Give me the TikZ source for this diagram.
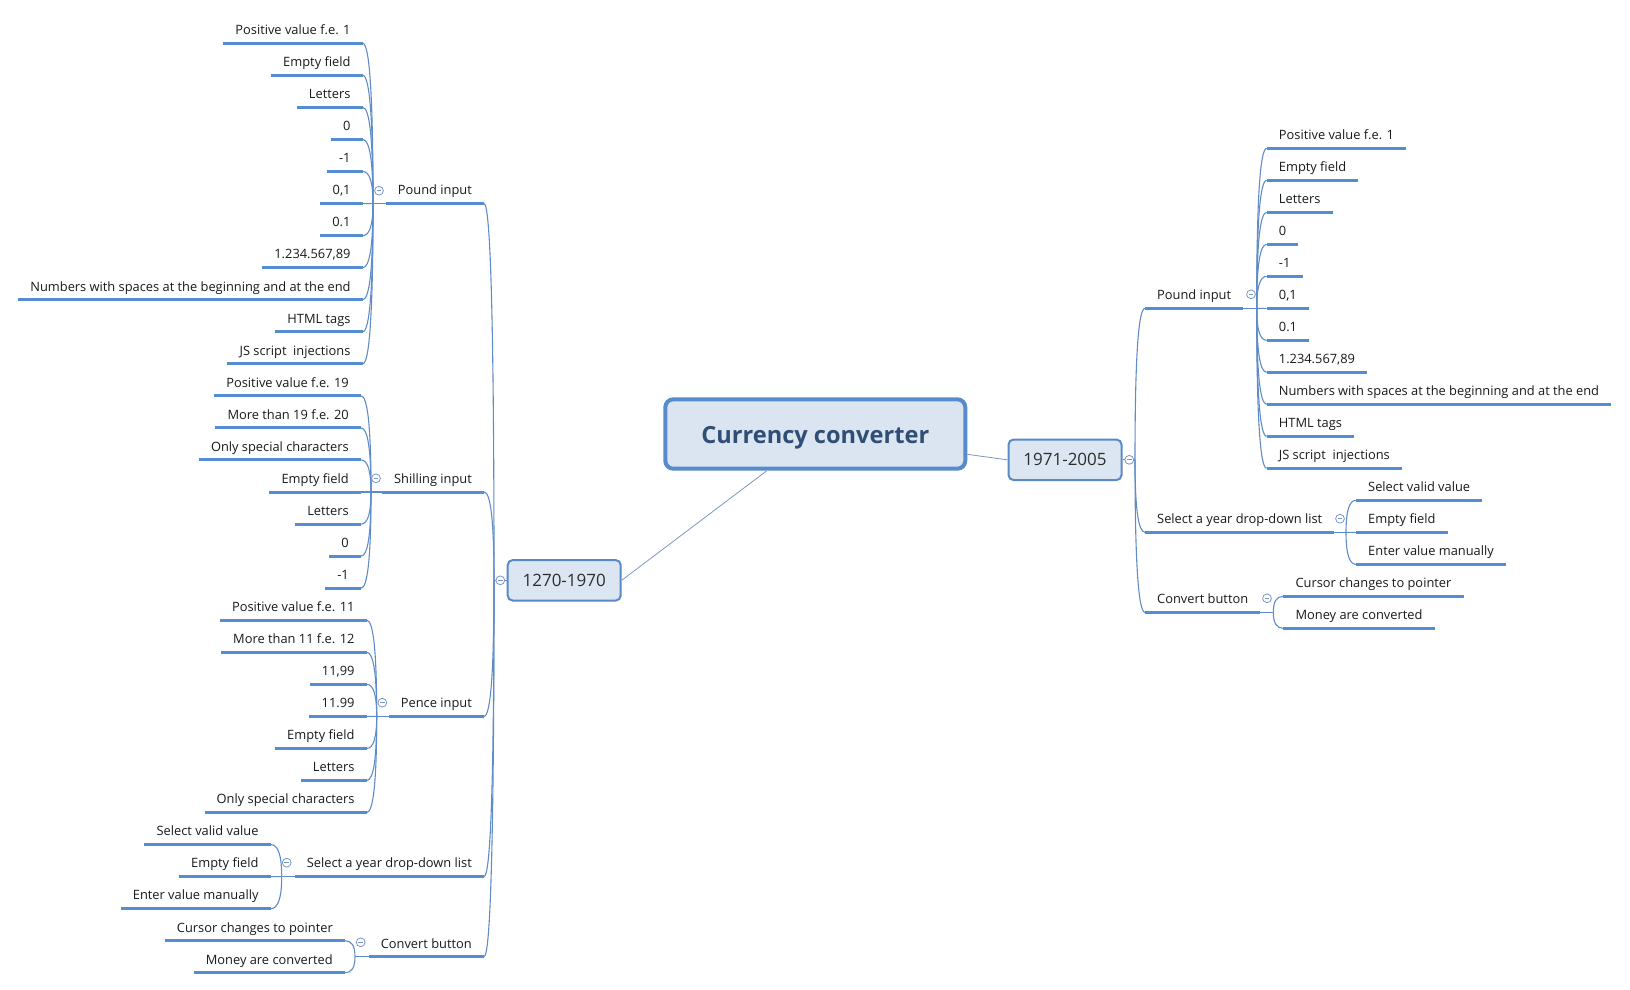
\documentclass[tikz,border=0pt]{standalone}
\usepackage{fontspec}
\setmainfont{Open Sans}
\usetikzlibrary{calc}
\definecolor{rootfill}{RGB}{219,229,241}
\definecolor{rootline}{RGB}{86,139,206}
\definecolor{roottext}{RGB}{46,78,118}
\definecolor{boxfill}{RGB}{220,230,242}
\definecolor{boxline}{RGB}{88,137,200}
\definecolor{boxtext}{RGB}{45,45,45}
\definecolor{barblue}{RGB}{84,141,210}
\definecolor{linkblue}{RGB}{95,140,200}
\definecolor{spokeblue}{RGB}{125,150,195}
\definecolor{foldblue}{RGB}{120,150,200}
\definecolor{inktext}{RGB}{25,25,25}
\begin{document}
\begin{tikzpicture}[x=1pt, y=-1pt,
    every node/.style = {font=\fontsize{12.85}{15}\selectfont, text=inktext},
    link/.style = {draw=linkblue, line width=1.1pt},
    spoke/.style = {draw=spokeblue, line width=0.8pt},
    branch/.style = {to path={.. controls ($(\tikztostart)!0.67!(\tikztostart |- \tikztotarget)$) and ($(\tikztotarget)!0.67!(\tikztostart |- \tikztotarget)$) .. (\tikztotarget)}},
    bar/.style = {draw=barblue, line width=3pt},
    item/.style = {inner xsep=12pt, inner ysep=5pt, text depth=3.5pt,
      append after command={(\tikzlastnode.south west) edge[bar] (\tikzlastnode.south east)}},
    itemL/.style = {item, anchor=south east},
    itemR/.style = {item, anchor=south west},
    period/.style = {draw=boxline, fill=boxfill, line width=2pt, rounded corners=5pt,
      minimum width=113pt, minimum height=40.5pt, font=\fontsize{17}{20}\selectfont, text=boxtext},
    root/.style = {draw=rootline, fill=rootfill, line width=4pt, rounded corners=8pt,
      minimum width=300pt, minimum height=69.4pt, text height=24pt, text depth=5.5pt,
      font=\fontsize{23.6}{28}\selectfont\bfseries, text=roottext},
    fold/.style = {circle, draw=foldblue, fill=white, line width=0.8pt, minimum size=8.8pt, inner sep=0pt,
      path picture={\draw[foldblue, line width=0.8pt] ([xshift=2pt]path picture bounding box.west) -- ([xshift=-2pt]path picture bounding box.east);}}]
\useasboundingbox (0,0) rectangle (1630,989);

% centre and the two periods
\node[root] (cc) at (815.3,434) {Currency converter};
\node[period] (old) at (564.2,580.3) {1270-1970};
\node[period] (new) at (1065,459.8) {1971-2005};

% 1270-1970 branches
\node[itemL] (lPound) at (484,203.55) {Pound input};
\node[itemL] (lShilling) at (484,492) {Shilling input};
\node[itemL] (lPence) at (484,716.35) {Pence input};
\node[itemL] (lYear) at (484,876.6) {Select a year drop-down list};
\node[itemL] (lConvert) at (484,956.7) {Convert button};

\node[itemL] (pl1) at (362.7,43.3) {Positive value f.e. 1};
\node[itemL] (pl2) at (362.7,75.35) {Empty field};
\node[itemL] (pl3) at (362.7,107.4) {Letters};
\node[itemL] (pl4) at (362.7,139.45) {0};
\node[itemL] (pl5) at (362.7,171.5) {-1};
\node[itemL] (pl6) at (362.7,203.55) {0,1};
\node[itemL] (pl7) at (362.7,235.6) {0.1};
\node[itemL] (pl8) at (362.7,267.65) {1.234.567,89};
\node[itemL] (pl9) at (362.7,299.7) {Numbers with spaces at the beginning and at the end};
\node[itemL] (pl10) at (362.7,331.75) {HTML tags};
\node[itemL] (pl11) at (362.7,363.8) {JS script~ injections};

\node[itemL] (sl1) at (361,395.85) {Positive value f.e. 19};
\node[itemL] (sl2) at (361,427.9) {More than 19 f.e. 20};
\node[itemL] (sl3) at (361,459.95) {Only special characters};
\node[itemL] (sl4) at (361,492) {Empty field};
\node[itemL] (sl5) at (361,524.05) {Letters};
\node[itemL] (sl6) at (361,556.1) {0};
\node[itemL] (sl7) at (361,588.15) {-1};

\node[itemL] (nl1) at (366.7,620.2) {Positive value f.e. 11};
\node[itemL] (nl2) at (366.7,652.25) {More than 11 f.e. 12};
\node[itemL] (nl3) at (366.7,684.3) {11,99};
\node[itemL] (nl4) at (366.7,716.35) {11.99};
\node[itemL] (nl5) at (366.7,748.4) {Empty field};
\node[itemL] (nl6) at (366.7,780.45) {Letters};
\node[itemL] (nl7) at (366.7,812.5) {Only special characters};

\node[itemL] (yl1) at (270.7,844.55) {Select valid value};
\node[itemL] (yl2) at (270.7,876.6) {Empty field};
\node[itemL] (yl3) at (270.7,908.65) {Enter value manually};

\node[itemL] (cl1) at (345,940.7) {Cursor changes to pointer};
\node[itemL] (cl2) at (345,972.75) {Money are converted};

% 1971-2005 branches
\node[itemR] (rPound) at (1145,308.3) {Pound input};
\node[itemR] (rYear) at (1145,532.3) {Select a year drop-down list};
\node[itemR] (rConvert) at (1145,612.3) {Convert button};

\node[itemR] (pr1) at (1266.7,148.3) {Positive value f.e. 1};
\node[itemR] (pr2) at (1266.7,180.3) {Empty field};
\node[itemR] (pr3) at (1266.7,212.3) {Letters};
\node[itemR] (pr4) at (1266.7,244.3) {0};
\node[itemR] (pr5) at (1266.7,276.3) {-1};
\node[itemR] (pr6) at (1266.7,308.3) {0,1};
\node[itemR] (pr7) at (1266.7,340.3) {0.1};
\node[itemR] (pr8) at (1266.7,372.3) {1.234.567,89};
\node[itemR] (pr9) at (1266.7,404.3) {Numbers with spaces at the beginning and at the end};
\node[itemR] (pr10) at (1266.7,436.3) {HTML tags};
\node[itemR] (pr11) at (1266.7,468.3) {JS script~ injections};

\node[itemR] (yr1) at (1356,500.3) {Select valid value};
\node[itemR] (yr2) at (1356,532.3) {Empty field};
\node[itemR] (yr3) at (1356,564.3) {Enter value manually};

\node[itemR] (cr1) at (1283.3,596.3) {Cursor changes to pointer};
\node[itemR] (cr2) at (1283.3,628.3) {Money are converted};

% hubs
\coordinate (hOld) at (494,580.3);
\coordinate (hNew) at (1135,459.8);
\coordinate (hPL) at (373,203.55);
\coordinate (hSL) at (371,492);
\coordinate (hNL) at (376.7,716.35);
\coordinate (hYL) at (281.7,876.6);
\coordinate (hCL) at (355,956.7);
\coordinate (hPR) at (1256.7,308.3);
\coordinate (hYR) at (1346,532.3);
\coordinate (hCR) at (1273.3,612.3);

\draw[spoke] (cc) -- (old.east);
\draw[spoke] (cc) -- (new.west);

\draw[link] (old.west) -- (hOld) edge[branch] (lPound.south east) edge[branch] (lShilling.south east)
  edge[branch] (lPence.south east) edge[branch] (lYear.south east) edge[branch] (lConvert.south east);
\draw[link] (lPound.south west) -- (hPL) edge[branch] (pl1.south east) edge[branch] (pl2.south east)
  edge[branch] (pl3.south east) edge[branch] (pl4.south east) edge[branch] (pl5.south east)
  edge[branch] (pl6.south east) edge[branch] (pl7.south east) edge[branch] (pl8.south east)
  edge[branch] (pl9.south east) edge[branch] (pl10.south east) edge[branch] (pl11.south east);
\draw[link] (lShilling.south west) -- (hSL) edge[branch] (sl1.south east) edge[branch] (sl2.south east)
  edge[branch] (sl3.south east) edge[branch] (sl4.south east) edge[branch] (sl5.south east)
  edge[branch] (sl6.south east) edge[branch] (sl7.south east);
\draw[link] (lPence.south west) -- (hNL) edge[branch] (nl1.south east) edge[branch] (nl2.south east)
  edge[branch] (nl3.south east) edge[branch] (nl4.south east) edge[branch] (nl5.south east)
  edge[branch] (nl6.south east) edge[branch] (nl7.south east);
\draw[link] (lYear.south west) -- (hYL) edge[branch] (yl1.south east) edge[branch] (yl2.south east)
  edge[branch] (yl3.south east);
\draw[link] (lConvert.south west) -- (hCL) edge[branch] (cl1.south east) edge[branch] (cl2.south east);

\draw[link] (new.east) -- (hNew) edge[branch] (rPound.south west) edge[branch] (rYear.south west)
  edge[branch] (rConvert.south west);
\draw[link] (rPound.south east) -- (hPR) edge[branch] (pr1.south west) edge[branch] (pr2.south west)
  edge[branch] (pr3.south west) edge[branch] (pr4.south west) edge[branch] (pr5.south west)
  edge[branch] (pr6.south west) edge[branch] (pr7.south west) edge[branch] (pr8.south west)
  edge[branch] (pr9.south west) edge[branch] (pr10.south west) edge[branch] (pr11.south west);
\draw[link] (rYear.south east) -- (hYR) edge[branch] (yr1.south west) edge[branch] (yr2.south west)
  edge[branch] (yr3.south west);
\draw[link] (rConvert.south east) -- (hCR) edge[branch] (cr1.south west) edge[branch] (cr2.south west);

% fold markers
\node[fold] (fOld) at (500.3,580.3) {};
\node[fold] (fNew) at (1129.3,459.8) {};
\node[fold] (fPL) at (379,190.7) {};
\node[fold] (fSL) at (376,478.3) {};
\node[fold] (fNL) at (382.3,702.7) {};
\node[fold] (fYL) at (286.7,862.7) {};
\node[fold] (fCL) at (360.7,942.3) {};
\node[fold] (fPR) at (1251,294.3) {};
\node[fold] (fYR) at (1340,518.7) {};
\node[fold] (fCR) at (1267,598.3) {};
\end{tikzpicture}
\end{document}
